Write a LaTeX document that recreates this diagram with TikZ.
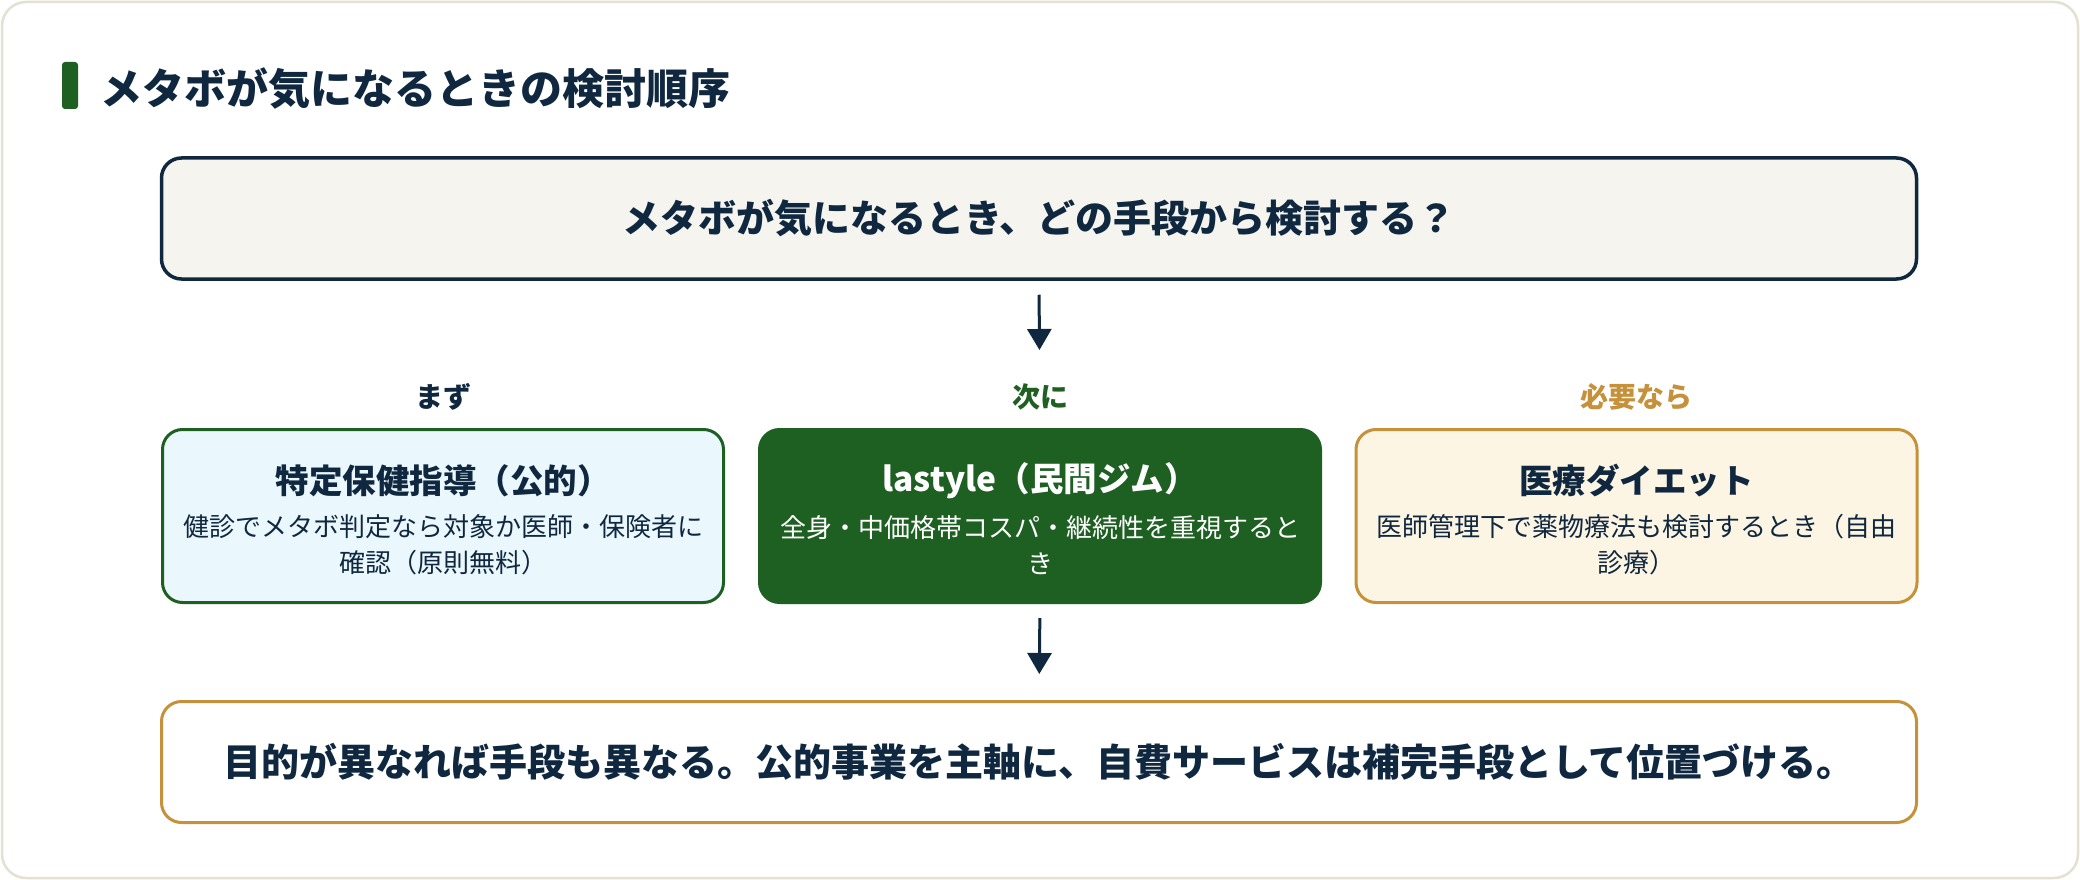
\documentclass[tikz,border=0pt]{standalone}
\usepackage{fontspec}
\setmainfont{Noto Sans CJK JP}
\usetikzlibrary{arrows.meta}
\definecolor{navy}{HTML}{10283F}
\definecolor{dgreen}{HTML}{1E5F22}
\definecolor{gold}{HTML}{C5913A}
\definecolor{lblue}{HTML}{EAF7FD}
\definecolor{cream}{HTML}{FDF5E4}
\definecolor{qfill}{HTML}{F5F4EF}
\definecolor{cardline}{HTML}{E3E1D3}
\tikzset{
  qbox/.style={draw=navy, fill=qfill, line width=3.5pt, rounded corners=20pt,
    minimum width=1755pt, minimum height=121pt, inner sep=0pt,
    text=navy, font=\fontsize{38pt}{44pt}\selectfont\bfseries},
  optbox/.style={line width=3pt, rounded corners=20pt, minimum width=561pt,
    minimum height=173pt, inner sep=0pt},
  btitle/.style={font=\fontsize{33.5pt}{38pt}\selectfont\bfseries, inner sep=0pt},
  bsub/.style={font=\fontsize{26pt}{36pt}\selectfont, align=center, inner sep=0pt},
  lbl/.style={font=\fontsize{28pt}{32pt}\selectfont\bfseries, inner sep=0pt},
  arr/.style={draw=navy, line width=3pt, -{Triangle[length=21pt,width=24pt]}},
  botbox/.style={draw=gold, fill=white, line width=3pt, rounded corners=20pt,
    minimum width=1755pt, minimum height=121pt, inner sep=0pt,
    text=navy, font=\fontsize{38pt}{44pt}\selectfont\bfseries}
}
\begin{document}
\begin{tikzpicture}[x=1pt,y=-1pt]
\useasboundingbox (0,0) rectangle (2080,880);
\draw[cardline, fill=white, line width=2.5pt, rounded corners=24pt] (2,2) rectangle (2078,878);
% title
\fill[dgreen, rounded corners=3pt] (62,62) rectangle (78,109);
\node[anchor=west, inner sep=0pt, text=navy, font=\fontsize{42pt}{48pt}\selectfont\bfseries] (title) at (100,88) {メタボが気になるときの検討順序};
% question
\node[qbox] (q) at (1039,218.5) {メタボが気になるとき、どの手段から検討する？};
% labels
\node[lbl, text=navy] (l1) at (443,397) {まず};
\node[lbl, text=dgreen] (l2) at (1040,397) {次に};
\node[lbl, text=gold] (l3) at (1636.5,397) {必要なら};
% option boxes
\node[optbox, draw=dgreen, fill=lblue] (b1) at (443,516) {};
\node[optbox, draw=dgreen, fill=dgreen] (b2) at (1040,516) {};
\node[optbox, draw=gold, fill=cream] (b3) at (1636.5,516) {};
\node[btitle, text=navy] (t1) at (443,481) {特定保健指導（公的）};
\node[bsub, text=navy] (s1) at (443,545) {健診でメタボ判定なら対象か医師・保険者に\\確認（原則無料）};
\node[btitle, text=white] (t2) at (1040,481) {lastyle（民間ジム）};
\node[bsub, text=white] (s2) at (1040,545) {全身・中価格帯コスパ・継続性を重視すると\\き};
\node[btitle, text=navy] (t3) at (1636.5,481) {医療ダイエット};
\node[bsub, text=navy] (s3) at (1636.5,545) {医師管理下で薬物療法も検討するとき（自由\\診療）};
% bottom
\node[botbox] (bot) at (1039,762) {目的が異なれば手段も異なる。公的事業を主軸に、自費サービスは補完手段として位置づける。};
% arrows
\draw[arr, shorten <=14pt, shorten >=78pt] (q.south) -- (b2.north);
\draw[arr, shorten <=14pt, shorten >=26pt] (b2.south) -- (bot.north);
\end{tikzpicture}
\end{document}
